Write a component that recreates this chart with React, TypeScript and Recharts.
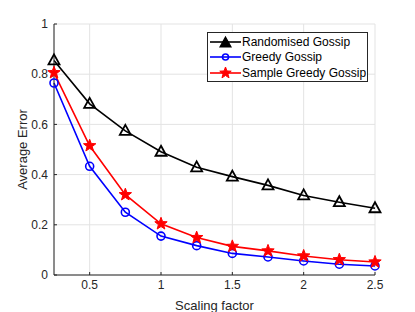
import { LineChart, Line, XAxis, YAxis, CartesianGrid } from "recharts";

const scaling = [0.25, 0.5, 0.75, 1, 1.25, 1.5, 1.75, 2, 2.25, 2.5];
const randomised = [0.855, 0.682, 0.574, 0.491, 0.429, 0.392, 0.357, 0.317, 0.29, 0.266];
const greedy = [0.765, 0.433, 0.25, 0.155, 0.117, 0.086, 0.072, 0.056, 0.043, 0.036];
const sampleGreedy = [0.806, 0.515, 0.32, 0.204, 0.149, 0.114, 0.096, 0.076, 0.061, 0.052];
const xTicks = [0.5, 1, 1.5, 2, 2.5];
const yTicks = [0, 0.2, 0.4, 0.6, 0.8, 1];

const data = scaling.map((s, i) => ({
  s,
  randomised: randomised[i],
  greedy: greedy[i],
  sample: sampleGreedy[i],
}));

const FONT = "'Liberation Sans', Arial, sans-serif";
const AXIS = "#262626";

const trianglePath = (cx: number, cy: number) =>
  `M${cx},${cy - 6}L${cx + 5.5},${cy + 4}L${cx - 5.5},${cy + 4}Z`;

const starPath = (cx: number, cy: number, r = 6.5) => {
  let d = "";
  for (let k = 0; k < 10; k++) {
    const rad = k % 2 === 0 ? r : r * 0.42;
    const a = -Math.PI / 2 + (k * Math.PI) / 5;
    d += `${k === 0 ? "M" : "L"}${cx + rad * Math.cos(a)},${cy + rad * Math.sin(a)}`;
  }
  return d + "Z";
};

const TriangleDot = (p: any) => (
  <path key={`t${p.index}`} d={trianglePath(p.cx, p.cy)} fill="none" stroke="#000" strokeWidth={1.8} />
);
const CircleDot = (p: any) => (
  <circle key={`c${p.index}`} cx={p.cx} cy={p.cy} r={4} fill="none" stroke="#0000ff" strokeWidth={1.6} />
);
const StarDot = (p: any) => (
  <path key={`s${p.index}`} d={starPath(p.cx, p.cy)} fill="#ff0000" stroke="#ff0000" strokeWidth={1} />
);

const entries = [
  { name: "Randomised Gossip", color: "#000", marker: "tri" },
  { name: "Greedy Gossip", color: "#0000ff", marker: "circle" },
  { name: "Sample Greedy Gossip", color: "#ff0000", marker: "star" },
];

const LegendBox = () => (
  <div
    style={{
      position: "absolute",
      left: 207,
      top: 32,
      border: "1px solid #262626",
      background: "#fff",
      width: 161,
      height: 50,
      fontFamily: FONT,
      fontSize: 12,
      color: "#000",
      paddingTop: 1,
      boxSizing: "border-box",
      whiteSpace: "nowrap",
    }}
  >
    {entries.map((e) => (
      <div key={e.name} style={{ display: "flex", alignItems: "center", height: 15.5 }}>
        <svg width={32} height={14} style={{ marginLeft: 1, flexShrink: 0 }}>
          <line x1={1} y1={7} x2={32} y2={7} stroke={e.color} strokeWidth={1.6} />
          {e.marker === "tri" && <path d={trianglePath(16.5, 8)} fill="#000" stroke="#000" strokeWidth={1.2} />}
          {e.marker === "circle" && <circle cx={16.5} cy={7} r={3} fill="none" stroke={e.color} strokeWidth={1.6} />}
          {e.marker === "star" && <path d={starPath(16.5, 7, 6)} fill="#ff0000" stroke="#ff0000" />}
        </svg>
        <span style={{ marginLeft: 1 }}>{e.name}</span>
      </div>
    ))}
  </div>
);

export default function App() {
  return (
    <div style={{ position: "absolute", left: 0, top: 0, width: 415, height: 312, background: "#fff" }}>
      <LineChart
        width={415}
        height={312}
        data={data}
        margin={{ top: 24, right: 40, left: 0, bottom: 0 }}
        style={{ fontFamily: FONT }}
      >
        <CartesianGrid stroke="#e3e3e3" strokeWidth={1} />
        <XAxis
          dataKey="s"
          type="number"
          domain={[0.25, 2.5]}
          ticks={xTicks}
          height={37}
          stroke={AXIS}
          tickSize={-3}
          tickMargin={8}
          tick={{ fill: AXIS, fontSize: 12 }}
          label={{ value: "Scaling factor", position: "insideBottom", offset: 2, fill: AXIS, fontSize: 13 }}
        />
        <XAxis
          xAxisId="top"
          orientation="top"
          type="number"
          domain={[0.25, 2.5]}
          ticks={xTicks}
          height={0}
          stroke={AXIS}
          tickSize={-3}
          tick={false}
        />
        <YAxis
          type="number"
          domain={[0, 1]}
          ticks={yTicks}
          width={54}
          stroke={AXIS}
          tickSize={-3}
          tickMargin={9}
          tick={{ fill: AXIS, fontSize: 12 }}
          label={{ value: "Average Error", angle: -90, position: "center", dx: -5, fill: AXIS, fontSize: 13 }}
        />
        <YAxis
          yAxisId="right"
          orientation="right"
          type="number"
          domain={[0, 1]}
          ticks={yTicks}
          width={0}
          stroke={AXIS}
          tickSize={-3}
          tick={false}
        />
        <Line dataKey="randomised" stroke="#000" strokeWidth={1.6} dot={TriangleDot} isAnimationActive={false} />
        <Line dataKey="greedy" stroke="#0000ff" strokeWidth={1.6} dot={CircleDot} isAnimationActive={false} />
        <Line dataKey="sample" stroke="#ff0000" strokeWidth={1.6} dot={StarDot} isAnimationActive={false} />
      </LineChart>
      <LegendBox />
    </div>
  );
}
